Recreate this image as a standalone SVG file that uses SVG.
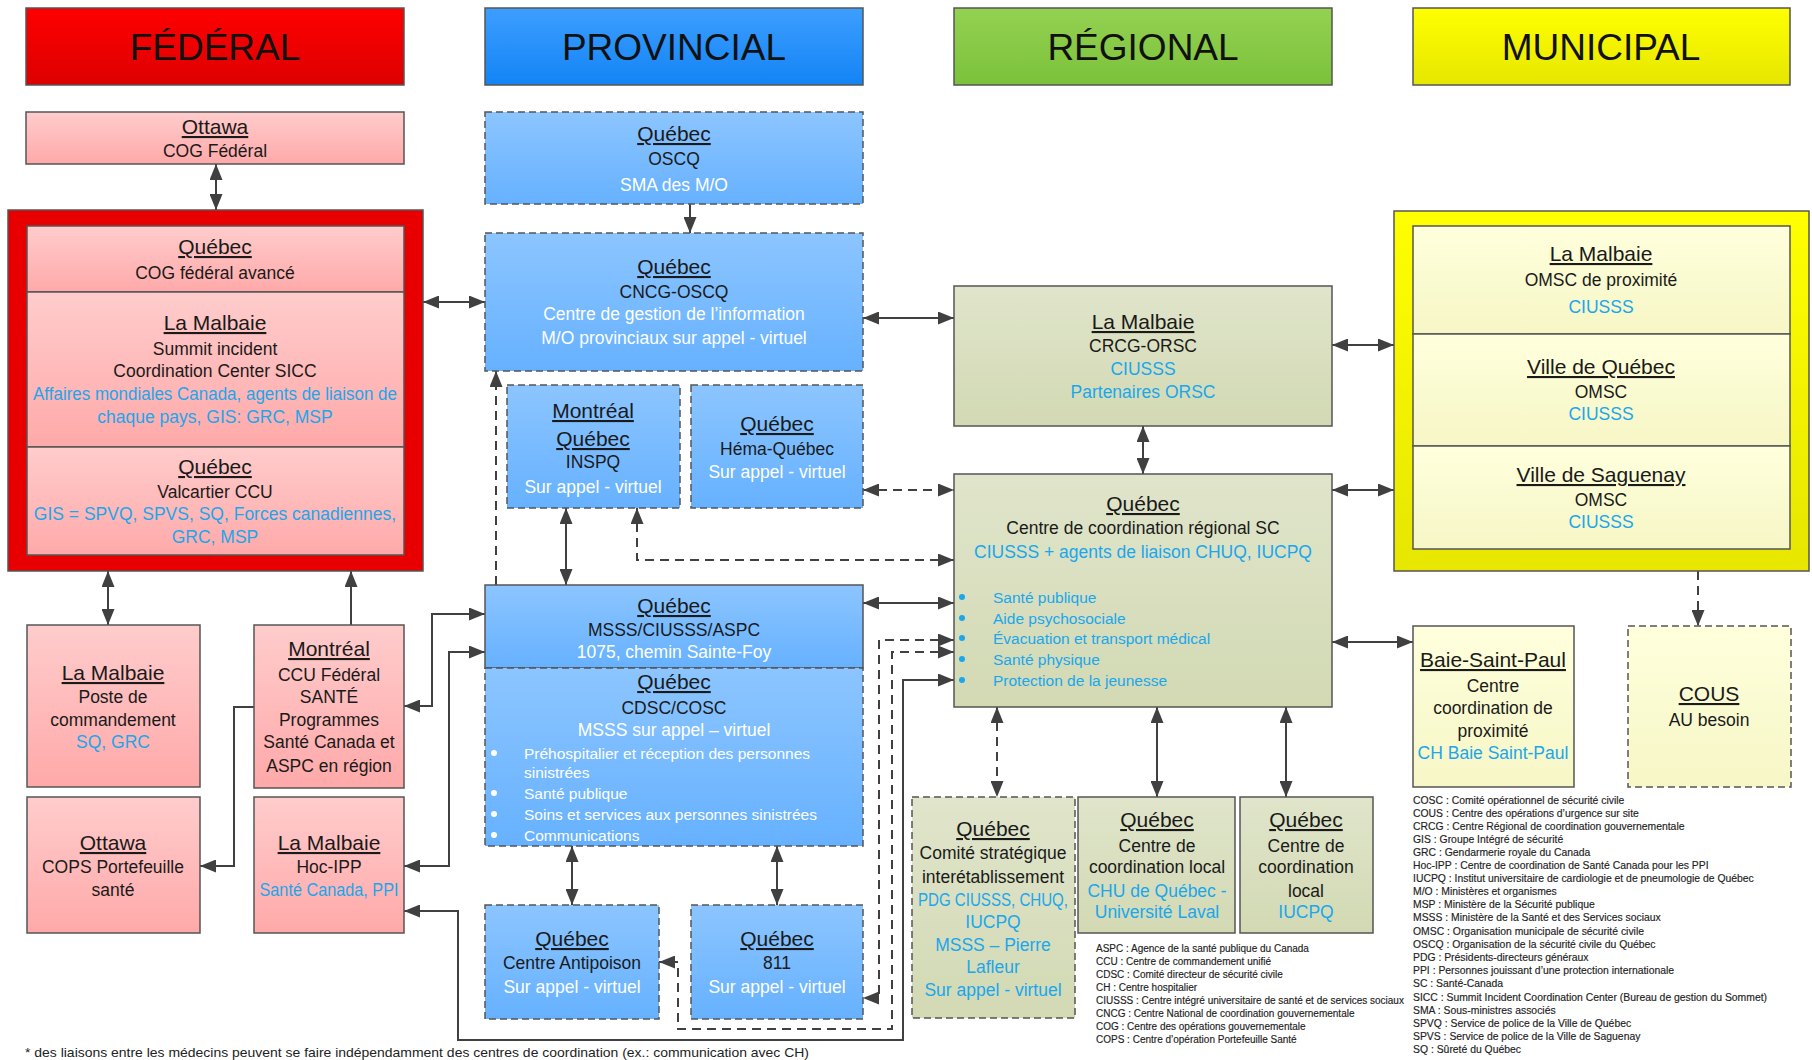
<svg xmlns="http://www.w3.org/2000/svg" width="1812" height="1060" viewBox="0 0 1812 1060" font-family="'Liberation Sans', Arial, sans-serif">
<style>
.box{stroke:#555;stroke-width:1.5}
.dash{stroke-dasharray:7 4}
.hd{font-size:37px;fill:#111;text-anchor:middle}
.ttl{font-size:21px;text-decoration:underline;fill:#1a1a1a;text-anchor:middle}
.txt{font-size:17.5px;fill:#1a1a1a;text-anchor:middle}
.cy{font-size:17.5px;fill:#1AA7EC;text-anchor:middle}
.wh{font-size:17.5px;fill:#fff;text-anchor:middle}
.blw{font-size:15.5px;fill:#fff}
.blc{font-size:15.5px;fill:#1AA7EC}
.leg{fill:#222;stroke:#222;stroke-width:0.15}
.con{fill:none;stroke:#404040;stroke-width:2;marker-end:url(#ah)}
.dbl{marker-start:url(#ah)}
.cd{stroke-dasharray:9 6}
</style>
<defs>
<marker id="ah" viewBox="0 0 10 10" refX="10" refY="5" markerWidth="16" markerHeight="13" markerUnits="userSpaceOnUse" orient="auto-start-reverse" preserveAspectRatio="none">
<path d="M0,0 L10,5 L0,10 z" fill="#404040"/>
</marker>
<linearGradient id="gRedH" x1="0" y1="0" x2="0" y2="1"><stop offset="0" stop-color="#FF0000"/><stop offset="1" stop-color="#DD0000"/></linearGradient>
<linearGradient id="gPink" x1="0" y1="0" x2="0" y2="1"><stop offset="0" stop-color="#FFCCCC"/><stop offset="1" stop-color="#FFA9A9"/></linearGradient>
<linearGradient id="gBlueH" x1="0" y1="0" x2="0" y2="1"><stop offset="0" stop-color="#3D9EFF"/><stop offset="1" stop-color="#1384F5"/></linearGradient>
<linearGradient id="gBlue" x1="0" y1="0" x2="0" y2="1"><stop offset="0" stop-color="#8CC5FF"/><stop offset="1" stop-color="#66B1FF"/></linearGradient>
<linearGradient id="gGreenH" x1="0" y1="0" x2="0" y2="1"><stop offset="0" stop-color="#94D152"/><stop offset="1" stop-color="#7BC23A"/></linearGradient>
<linearGradient id="gOlive" x1="0" y1="0" x2="0" y2="1"><stop offset="0" stop-color="#E0E5CB"/><stop offset="1" stop-color="#D2D9B3"/></linearGradient>
<linearGradient id="gYelH" x1="0" y1="0" x2="0" y2="1"><stop offset="0" stop-color="#FFFF00"/><stop offset="1" stop-color="#E6E600"/></linearGradient>
<linearGradient id="gLY" x1="0" y1="0" x2="0" y2="1"><stop offset="0" stop-color="#FFFFDD"/><stop offset="1" stop-color="#F6F6C6"/></linearGradient>
</defs>
<rect width="1812" height="1060" fill="#fff"/>

<!-- headers -->
<g id="h-federal"><rect class="box" x="26" y="8" width="378" height="77" fill="url(#gRedH)"/><text class="hd" x="215" y="60">FÉDÉRAL</text></g>
<g id="h-provincial"><rect class="box" x="485" y="8" width="378" height="77" fill="url(#gBlueH)"/><text class="hd" x="674" y="60">PROVINCIAL</text></g>
<g id="h-regional"><rect class="box" x="954" y="8" width="378" height="77" fill="url(#gGreenH)"/><text class="hd" x="1143" y="60">RÉGIONAL</text></g>
<g id="h-municipal"><rect class="box" x="1413" y="8" width="377" height="77" fill="url(#gYelH)"/><text class="hd" x="1601" y="60">MUNICIPAL</text></g>

<!-- connectors -->
<g id="connectors">
<path class="con dbl" d="M216,164 V210"/>
<path class="con dbl" d="M423,302 H485"/>
<path class="con" d="M690,204 V233"/>
<path class="con dbl" d="M863,318 H954"/>
<path class="con dbl" d="M1332,345 H1394"/>
<path class="con dbl" d="M1143,426 V474"/>
<path class="con dbl cd" d="M863,490 H954"/>
<path class="con dbl" d="M1332,490 H1394"/>
<path class="con dbl" d="M566,508 V585"/>
<path class="con dbl cd" d="M637,508 V560 H954"/>
<path class="con cd" d="M496,585 V371"/>
<path class="con dbl" d="M863,603 H954"/>
<path class="con" d="M254,707 H234 V866 H200"/>
<path class="con dbl" d="M485,614 H432 V706 H404"/>
<path class="con dbl" d="M485,652 H449 V866 H404"/>
<path class="con dbl" d="M954,680 H903 V1040 H458 V911 H404"/>
<path class="con dbl cd" d="M954,640 H879 V998 H863"/>
<path class="con dbl cd" d="M954,652 H892 V1029 H678 V962 H659"/>
<path class="con" d="M351,625 V571"/>
<path class="con dbl" d="M108,571 V625"/>
<path class="con dbl" d="M572,846 V905"/>
<path class="con dbl" d="M777,846 V905"/>
<path class="con dbl cd" d="M997,707 V797"/>
<path class="con dbl" d="M1157,707 V797"/>
<path class="con dbl" d="M1286,707 V797"/>
<path class="con dbl" d="M1332,642 H1413"/>
<path class="con cd" d="M1698,571 V626"/>
</g>

<!-- FEDERAL -->
<g id="n-ottawa-cog">
<rect class="box" x="26" y="112" width="378" height="52" fill="url(#gPink)"/>
<text class="ttl" x="215" y="134">Ottawa</text>
<text class="txt" x="215" y="157">COG Fédéral</text>
</g>
<g id="n-federal-container">
<rect class="box" x="8" y="210" width="415" height="361" fill="#E80000"/>
<g id="n-quebec-cog-avance">
<rect class="box" x="27" y="226" width="377" height="66" fill="url(#gPink)"/>
<text class="ttl" x="215" y="254">Québec</text>
<text class="txt" x="215" y="279">COG fédéral avancé</text>
</g>
<g id="n-lamalbaie-sicc">
<rect class="box" x="27" y="292" width="377" height="155" fill="url(#gPink)"/>
<text class="ttl" x="215" y="330">La Malbaie</text>
<text class="txt" x="215" y="355">Summit incident</text>
<text class="txt" x="215" y="377">Coordination Center SICC</text>
<text class="cy" x="215" y="400" font-size="17" textLength="364" lengthAdjust="spacingAndGlyphs">Affaires mondiales Canada, agents de liaison de</text>
<text class="cy" x="215" y="423" font-size="17">chaque pays, GIS: GRC, MSP</text>
</g>
<g id="n-quebec-valcartier">
<rect class="box" x="27" y="447" width="377" height="108" fill="url(#gPink)"/>
<text class="ttl" x="215" y="474">Québec</text>
<text class="txt" x="215" y="498">Valcartier CCU</text>
<text class="cy" x="215" y="520" font-size="16.5">GIS = SPVQ, SPVS, SQ, Forces canadiennes,</text>
<text class="cy" x="215" y="543" font-size="16.5">GRC, MSP</text>
</g>
</g>
<g id="n-lamalbaie-poste">
<rect class="box" x="27" y="625" width="173" height="162" fill="url(#gPink)"/>
<text class="ttl" x="113" y="680">La Malbaie</text>
<text class="txt" x="113" y="703">Poste de</text>
<text class="txt" x="113" y="726">commandement</text>
<text class="cy" x="113" y="748">SQ, GRC</text>
</g>
<g id="n-montreal-ccu">
<rect class="box" x="254" y="625" width="150" height="163" fill="url(#gPink)"/>
<text class="ttl" x="329" y="656">Montréal</text>
<text class="txt" x="329" y="681">CCU Fédéral</text>
<text class="txt" x="329" y="703">SANTÉ</text>
<text class="txt" x="329" y="726">Programmes</text>
<text class="txt" x="329" y="748">Santé Canada et</text>
<text class="txt" x="329" y="772">ASPC en région</text>
</g>
<g id="n-ottawa-cops">
<rect class="box" x="27" y="797" width="173" height="136" fill="url(#gPink)"/>
<text class="ttl" x="113" y="850">Ottawa</text>
<text class="txt" x="113" y="873">COPS Portefeuille</text>
<text class="txt" x="113" y="896">santé</text>
</g>
<g id="n-lamalbaie-hocipp">
<rect class="box" x="254" y="797" width="150" height="136" fill="url(#gPink)"/>
<text class="ttl" x="329" y="850">La Malbaie</text>
<text class="txt" x="329" y="873">Hoc-IPP</text>
<text class="cy" x="329" y="896" font-size="16.5" textLength="139" lengthAdjust="spacingAndGlyphs">Santé Canada, PPI</text>
</g>

<!-- PROVINCIAL -->
<g id="n-oscq">
<rect class="box dash" x="485" y="112" width="378" height="92" fill="url(#gBlue)"/>
<text class="ttl" x="674" y="141">Québec</text>
<text class="txt" x="674" y="165">OSCQ</text>
<text class="wh" x="674" y="191">SMA des M/O</text>
</g>
<g id="n-cncg">
<rect class="box dash" x="485" y="233" width="378" height="138" fill="url(#gBlue)"/>
<text class="ttl" x="674" y="274">Québec</text>
<text class="txt" x="674" y="298">CNCG-OSCQ</text>
<text class="wh" x="674" y="320">Centre de gestion de l’information</text>
<text class="wh" x="674" y="344">M/O provinciaux sur appel - virtuel</text>
</g>
<g id="n-inspq">
<rect class="box dash" x="507" y="385" width="173" height="123" fill="url(#gBlue)"/>
<text class="ttl" x="593" y="418">Montréal</text>
<text class="ttl" x="593" y="446">Québec</text>
<text class="txt" x="593" y="468">INSPQ</text>
<text class="wh" x="593" y="493">Sur appel - virtuel</text>
</g>
<g id="n-hema">
<rect class="box dash" x="691" y="385" width="172" height="123" fill="url(#gBlue)"/>
<text class="ttl" x="777" y="431">Québec</text>
<text class="txt" x="777" y="455">Héma-Québec</text>
<text class="wh" x="777" y="478">Sur appel - virtuel</text>
</g>
<g id="n-msss">
<rect class="box" x="485" y="585" width="378" height="83" fill="url(#gBlue)"/>
<text class="ttl" x="674" y="613">Québec</text>
<text class="txt" x="674" y="636" font-size="16">MSSS/CIUSSS/ASPC</text>
<text class="wh" x="674" y="658" font-size="15.5">1075, chemin Sainte-Foy</text>
</g>
<g id="n-cdsc">
<rect class="box dash" x="485" y="668" width="378" height="178" fill="url(#gBlue)"/>
<text class="ttl" x="674" y="689">Québec</text>
<text class="txt" x="674" y="714" font-size="16.5">CDSC/COSC</text>
<text class="wh" x="674" y="736" font-size="17">MSSS sur appel – virtuel</text>
<g fill="#fff"><circle cx="494" cy="753" r="3"/><circle cx="494" cy="793" r="3"/><circle cx="494" cy="814" r="3"/><circle cx="494" cy="835" r="3"/></g>
<text class="blw" x="524" y="758.5">Préhospitalier et réception des personnes</text>
<text class="blw" x="524" y="778">sinistrées</text>
<text class="blw" x="524" y="798.5">Santé publique</text>
<text class="blw" x="524" y="819.5">Soins et services aux personnes sinistrées</text>
<text class="blw" x="524" y="840.5">Communications</text>
</g>
<g id="n-antipoison">
<rect class="box dash" x="485" y="905" width="174" height="114" fill="url(#gBlue)"/>
<text class="ttl" x="572" y="946">Québec</text>
<text class="txt" x="572" y="969">Centre Antipoison</text>
<text class="wh" x="572" y="993">Sur appel - virtuel</text>
</g>
<g id="n-811">
<rect class="box dash" x="691" y="905" width="172" height="114" fill="url(#gBlue)"/>
<text class="ttl" x="777" y="946">Québec</text>
<text class="txt" x="777" y="969">811</text>
<text class="wh" x="777" y="993">Sur appel - virtuel</text>
</g>

<!-- REGIONAL -->
<g id="n-crcg">
<rect class="box" x="954" y="286" width="378" height="140" fill="url(#gOlive)"/>
<text class="ttl" x="1143" y="329">La Malbaie</text>
<text class="txt" x="1143" y="352">CRCG-ORSC</text>
<text class="cy" x="1143" y="375">CIUSSS</text>
<text class="cy" x="1143" y="398">Partenaires ORSC</text>
</g>
<g id="n-ccr-sc">
<rect class="box" x="954" y="474" width="378" height="233" fill="url(#gOlive)"/>
<text class="ttl" x="1143" y="511">Québec</text>
<text class="txt" x="1143" y="534">Centre de coordination régional SC</text>
<text class="cy" x="1143" y="557.5" font-size="16.5">CIUSSS + agents de liaison CHUQ, IUCPQ</text>
<g fill="#1AA7EC"><circle cx="962" cy="597" r="3"/><circle cx="962" cy="618" r="3"/><circle cx="962" cy="638" r="3"/><circle cx="962" cy="659" r="3"/><circle cx="962" cy="680" r="3"/></g>
<text class="blc" x="993" y="602.5">Santé publique</text>
<text class="blc" x="993" y="623.5">Aide psychosociale</text>
<text class="blc" x="993" y="643.5">Évacuation et transport médical</text>
<text class="blc" x="993" y="664.5">Santé physique</text>
<text class="blc" x="993" y="685.5">Protection de la jeunesse</text>
</g>
<g id="n-comite">
<rect class="box dash" x="912" y="797" width="163" height="221" fill="url(#gOlive)"/>
<text class="ttl" x="993" y="836">Québec</text>
<text class="txt" x="993" y="859">Comité stratégique</text>
<text class="txt" x="993" y="883">interétablissement</text>
<text class="cy" x="993" y="906" textLength="150" lengthAdjust="spacingAndGlyphs">PDG CIUSSS, CHUQ,</text>
<text class="cy" x="993" y="928">IUCPQ</text>
<text class="cy" x="993" y="951">MSSS – Pierre</text>
<text class="cy" x="993" y="973">Lafleur</text>
<text class="cy" x="993" y="996">Sur appel - virtuel</text>
</g>
<g id="n-ccl-chu">
<rect class="box" x="1078" y="797" width="157" height="136" fill="url(#gOlive)"/>
<text class="ttl" x="1157" y="827">Québec</text>
<text class="txt" x="1157" y="852">Centre de</text>
<text class="txt" x="1157" y="873">coordination local</text>
<text class="cy" x="1157" y="897">CHU de Québec -</text>
<text class="cy" x="1157" y="918">Université Laval</text>
</g>
<g id="n-ccl-iucpq">
<rect class="box" x="1240" y="797" width="133" height="136" fill="url(#gOlive)"/>
<text class="ttl" x="1306" y="827">Québec</text>
<text class="txt" x="1306" y="852">Centre de</text>
<text class="txt" x="1306" y="873">coordination</text>
<text class="txt" x="1306" y="897">local</text>
<text class="cy" x="1306" y="918">IUCPQ</text>
</g>

<!-- MUNICIPAL -->
<g id="n-municipal-container">
<rect class="box" x="1394" y="211" width="415" height="360" fill="url(#gYelH)"/>
<g id="n-lamalbaie-omsc">
<rect class="box" x="1413" y="226" width="377" height="108" fill="url(#gLY)"/>
<text class="ttl" x="1601" y="261">La Malbaie</text>
<text class="txt" x="1601" y="286">OMSC de proximité</text>
<text class="cy" x="1601" y="313">CIUSSS</text>
</g>
<g id="n-villequebec-omsc">
<rect class="box" x="1413" y="334" width="377" height="112" fill="url(#gLY)"/>
<text class="ttl" x="1601" y="374">Ville de Québec</text>
<text class="txt" x="1601" y="398">OMSC</text>
<text class="cy" x="1601" y="420">CIUSSS</text>
</g>
<g id="n-saguenay-omsc">
<rect class="box" x="1413" y="446" width="377" height="103" fill="url(#gLY)"/>
<text class="ttl" x="1601" y="482">Ville de Saguenay</text>
<text class="txt" x="1601" y="506">OMSC</text>
<text class="cy" x="1601" y="528">CIUSSS</text>
</g>
</g>
<g id="n-baie-saint-paul">
<rect class="box" x="1413" y="626" width="161" height="161" fill="url(#gLY)"/>
<text class="ttl" x="1493" y="667">Baie-Saint-Paul</text>
<text class="txt" x="1493" y="692">Centre</text>
<text class="txt" x="1493" y="714">coordination de</text>
<text class="txt" x="1493" y="737">proximité</text>
<text class="cy" x="1493" y="759" font-size="16.5">CH Baie Saint-Paul</text>
</g>
<g id="n-cous">
<rect class="box dash" x="1628" y="626" width="163" height="161" fill="url(#gLY)"/>
<text class="ttl" x="1709" y="701">COUS</text>
<text class="txt" x="1709" y="726">AU besoin</text>
</g>

<!-- legends -->
<g id="legend-1" class="leg" font-size="10">
<text x="1096" y="952">ASPC : Agence de la santé publique du Canada</text>
<text x="1096" y="965">CCU : Centre de commandement unifié</text>
<text x="1096" y="978">CDSC : Comité directeur de sécurité civile</text>
<text x="1096" y="991">CH : Centre hospitalier</text>
<text x="1096" y="1004">CIUSSS : Centre intégré universitaire de santé et de services sociaux</text>
<text x="1096" y="1017">CNCG : Centre National de coordination gouvernementale</text>
<text x="1096" y="1030">COG :  Centre des opérations gouvernementale</text>
<text x="1096" y="1043">COPS : Centre d’opération Portefeuille Santé</text>
</g>
<g id="legend-2" class="leg" font-size="10.4">
<text x="1413" y="804">COSC : Comité opérationnel de sécurité civile</text>
<text x="1413" y="817">COUS : Centre des opérations d’urgence sur site</text>
<text x="1413" y="830">CRCG : Centre Régional de coordination gouvernementale</text>
<text x="1413" y="843">GIS :  Groupe Intégré de sécurité</text>
<text x="1413" y="856">GRC : Gendarmerie royale du Canada</text>
<text x="1413" y="869">Hoc-IPP : Centre de coordination de Santé Canada pour les PPI</text>
<text x="1413" y="882">IUCPQ : Institut universitaire de cardiologie et de pneumologie de Québec</text>
<text x="1413" y="895">M/O : Ministères et organismes</text>
<text x="1413" y="908">MSP : Ministère de la Sécurité publique</text>
<text x="1413" y="921">MSSS : Ministère de la Santé et des Services sociaux</text>
<text x="1413" y="935">OMSC : Organisation municipale de sécurité civile</text>
<text x="1413" y="948">OSCQ : Organisation de la sécurité civile du Québec</text>
<text x="1413" y="961">PDG : Présidents-directeurs généraux</text>
<text x="1413" y="974">PPI : Personnes jouissant d’une protection internationale</text>
<text x="1413" y="987">SC : Santé-Canada</text>
<text x="1413" y="1001">SICC : Summit Incident Coordination Center (Bureau de gestion du Sommet)</text>
<text x="1413" y="1014">SMA : Sous-ministres associés</text>
<text x="1413" y="1027">SPVQ : Service de police de la Ville de Québec</text>
<text x="1413" y="1040">SPVS : Service de police de la Ville de Saguenay</text>
<text x="1413" y="1053">SQ : Sûreté du Québec</text>
</g>
<text id="footnote" x="25" y="1057" font-size="13.5" fill="#222" textLength="784" lengthAdjust="spacingAndGlyphs">* des liaisons entre les médecins peuvent se faire indépendamment des centres de coordination (ex.: communication avec CH)</text>
</svg>
